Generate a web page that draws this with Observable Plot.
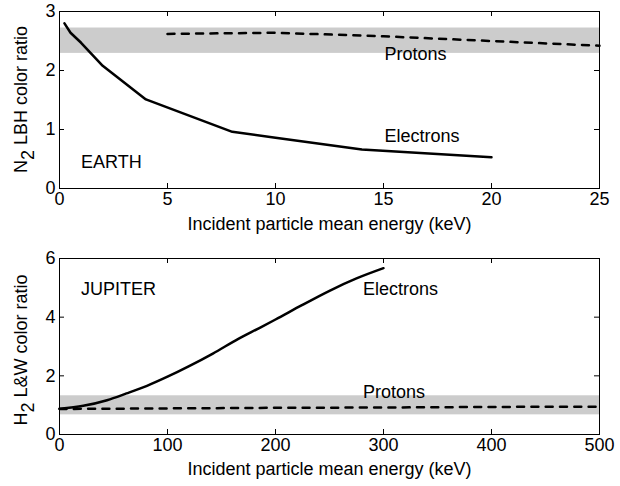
<!DOCTYPE html>
<html><head><meta charset="utf-8">
<script src="https://cdn.jsdelivr.net/npm/d3@7"></script>
<script src="https://cdn.jsdelivr.net/npm/@observablehq/plot@0.6"></script>
<style>
body{margin:0;background:#fff;}
#chart svg{display:block;}
</style>
</head><body><div id="chart"></div>
<script>
// ---- Earth panel data ----
const earthXTicks = [0, 5, 10, 15, 20, 25];
const earthYTicks = [0, 1, 2, 3];
const earthElectronE = [0.23, 0.51, 1, 2, 4, 8, 10, 14, 20];
const earthElectronR = [2.80, 2.64, 2.47, 2.08, 1.51, 0.96, 0.86, 0.66, 0.53];
const earthProtonE = [5, 10, 15, 20, 25];
const earthProtonR = [2.62, 2.64, 2.58, 2.50, 2.42];
const earthBand = [2.29, 2.72];
const earthLabelText = ["EARTH", "Electrons", "Protons"];
const earthLabelX = [1.0, 15.05, 15.05];
const earthLabelY = [0.45, 0.88, 2.28];

// ---- Jupiter panel data ----
const jupXTicks = [0, 100, 200, 300, 400, 500];
const jupYTicks = [0, 2, 4, 6];
const jupElectronE = [0, 22, 44, 62, 81, 100, 120, 142, 166, 185, 200, 224, 250, 275, 300];
const jupElectronR = [0.88, 0.98, 1.17, 1.40, 1.66, 1.97, 2.33, 2.76, 3.27, 3.63, 3.92, 4.40, 4.90, 5.32, 5.67];
const jupProtonE = [0, 100, 200, 300, 400, 500];
const jupProtonR = [0.87, 0.89, 0.91, 0.92, 0.94, 0.95];
const jupBand = [0.67, 1.32];
const jupLabelText = ["JUPITER", "Electrons", "Protons"];
const jupLabelX = [20, 281, 281];
const jupLabelY = [4.94, 4.94, 1.44];

const xTitle = "Incident particle mean energy (keV)";

const FONT = "'Liberation Sans', Arial, Helvetica, sans-serif";
const FS = 18;

function zipXY(xs, ys) { return xs.map((x, i) => ({x, y: ys[i]})); }

function panel(o) {
  const W = 620, mL = 59, mR = 21;
  const plotW = W - mL - mR;
  const plotH = o.height - o.marginTop - o.marginBottom;
  const labels = o.labelText.map((t, i) => ({t, x: o.labelX[i], y: o.labelY[i]}));
  const svg = Plot.plot({
    width: W, height: o.height,
    marginLeft: mL, marginRight: mR, marginTop: o.marginTop, marginBottom: o.marginBottom,
    style: {fontFamily: FONT, fontSize: FS + "px", color: "black", background: "white", overflow: "visible"},
    x: {domain: o.xDomain, axis: null},
    y: {domain: o.yDomain, axis: null},
    marks: [
      Plot.rect([o.band], {x1: () => o.xDomain[0], x2: () => o.xDomain[1], y1: d => d[0], y2: d => d[1], fill: "#cccccc"}),
      Plot.line(zipXY(o.protonE, o.protonR), {x: "x", y: "y", stroke: "black", strokeWidth: 2.5, strokeDasharray: "7,7.3"}),
      Plot.line(zipXY(o.electronE, o.electronR), {x: "x", y: "y", stroke: "black", strokeWidth: 2.5, curve: o.curve}),
      Plot.text(labels, {x: "x", y: "y", text: "t", textAnchor: "start", lineAnchor: "middle", fill: "black", fontSize: FS}),
      Plot.frame({stroke: "black", strokeWidth: 1}),
      Plot.tickX(o.xTicks, {x: d => d, insetTop: plotH - 5, stroke: "black"}),
      Plot.tickX(o.xTicks, {x: d => d, insetBottom: plotH - 5, stroke: "black"}),
      Plot.tickY(o.yTicks, {y: d => d, insetRight: plotW - 5, stroke: "black"}),
      Plot.tickY(o.yTicks, {y: d => d, insetLeft: plotW - 5, stroke: "black"}),
      Plot.axisX(o.xTicks, {tickSize: 0, tickPadding: 4, label: null, fill: "black", tickFormat: d => String(d), fontSize: FS}),
      Plot.axisY(o.yTicks, {tickSize: 0, tickPadding: 4, label: null, fill: "black", tickFormat: d => String(d), fontSize: FS}),
      Plot.text([xTitle], {frameAnchor: "bottom", dy: o.titleDy, text: d => d, lineAnchor: "middle", fill: "black", fontSize: FS})
    ]
  });
  // y-axis title with subscript
  const yc = o.marginTop + plotH / 2 + o.yTitleShift;
  const t = d3.select(svg).append("text")
    .attr("transform", `translate(${mL - 32},${yc}) rotate(-90)`)
    .attr("text-anchor", "middle")
    .attr("font-family", FONT)
    .attr("font-size", FS)
    .attr("fill", "black");
  t.append("tspan").text(o.yTitle[0]);
  t.append("tspan").attr("dy", 7).text(o.yTitle[1]);
  t.append("tspan").attr("dy", -7).text(o.yTitle[2]);
  return svg;
}

const chart = document.getElementById("chart");
chart.appendChild(panel({
  height: 240, marginTop: 11, marginBottom: 52,
  xDomain: [0, 25], yDomain: [0, 3], xTicks: earthXTicks, yTicks: earthYTicks,
  band: earthBand, protonE: earthProtonE, protonR: earthProtonR,
  electronE: earthElectronE, electronR: earthElectronR, curve: "linear",
  labelText: earthLabelText, labelX: earthLabelX, labelY: earthLabelY,
  titleDy: 36, yTitle: ["N", "2", " LBH color ratio"], yTitleShift: 0
}));
chart.appendChild(panel({
  height: 246, marginTop: 18, marginBottom: 52,
  xDomain: [0, 500], yDomain: [0, 6], xTicks: jupXTicks, yTicks: jupYTicks,
  band: jupBand, protonE: jupProtonE, protonR: jupProtonR,
  electronE: jupElectronE, electronR: jupElectronR, curve: "monotone-x",
  labelText: jupLabelText, labelX: jupLabelX, labelY: jupLabelY,
  titleDy: 35, yTitle: ["H", "2", " L&W color ratio"], yTitleShift: 4
}));
</script>
</body></html>
